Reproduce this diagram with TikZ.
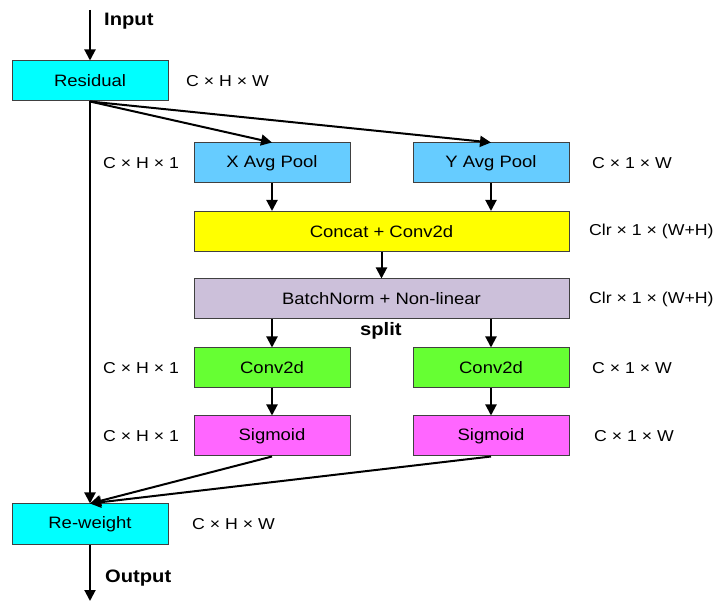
\documentclass[tikz,border=0pt]{standalone}
\usepackage{fontspec}
\setmainfont{Liberation Sans}[FakeStretch=1.12]
\usetikzlibrary{arrows.meta}
\definecolor{cyanbox}{HTML}{00FFFF}
\definecolor{poolbox}{HTML}{66CCFF}
\definecolor{yelbox}{HTML}{FFFF00}
\definecolor{lavbox}{HTML}{CCC0DA}
\definecolor{greenbox}{HTML}{66FF33}
\definecolor{magbox}{HTML}{FF66FF}
\definecolor{edgegray}{HTML}{404040}
\tikzset{
  blk/.style={draw=edgegray, line width=1pt, minimum width=156pt, minimum height=40pt, inner sep=0pt, font=\fontsize{16.5}{18}\selectfont},
  wideblk/.style={blk, minimum width=375pt},
  lbl/.style={anchor=west, inner sep=0pt, font=\fontsize{15.8}{18}\selectfont},
  blbl/.style={anchor=west, inner sep=0pt, font=\fontsize{18}{20}\selectfont\bfseries},
  arr/.style={line width=2pt, -{Triangle[length=11pt,width=11pt]}}
}
\begin{document}
\begin{tikzpicture}[x=1pt,y=-1pt]
\useasboundingbox (0,0) rectangle (718,601);
\node[blk, fill=cyanbox] (res) at (90,81) {Residual};
\node[blk, fill=poolbox] (xp) at (272,163) {X Avg Pool};
\node[blk, fill=poolbox] (yp) at (491,163) {Y Avg Pool};
\node[wideblk, fill=yelbox] (cat) at (381.5,231.5) {Concat + Conv2d};
\node[wideblk, fill=lavbox] (bn) at (381.5,299) {BatchNorm + Non-linear};
\node[blk, fill=greenbox] (cl) at (272,368) {Conv2d};
\node[blk, fill=greenbox] (cr) at (491,368) {Conv2d};
\node[blk, fill=magbox] (sl) at (272,436) {Sigmoid};
\node[blk, fill=magbox] (sr) at (491,436) {Sigmoid};
\node[blk, fill=cyanbox] (rw) at (90,524) {Re-weight};
\coordinate (in) at (90,10);
\coordinate (out) at (90,601);
% labels
\node[blbl] (tin) at (104,21) {Input};
\node[blbl] (tout) at (105,578) {Output};
\node[blbl] (tsplit) at (360,331) {split};
\node[lbl] (l1) at (186,81) {C × H × W};
\node[lbl] (l2) at (103,163) {C × H × 1};
\node[lbl] (l3) at (592,163) {C × 1 × W};
\node[lbl] (l4) at (589,231.5) {Clr × 1 × (W+H)};
\node[lbl] (l5) at (589,299) {Clr × 1 × (W+H)};
\node[lbl] (l6) at (103,368) {C × H × 1};
\node[lbl] (l7) at (592,368) {C × 1 × W};
\node[lbl] (l8) at (103,436) {C × H × 1};
\node[lbl] (l9) at (594,436) {C × 1 × W};
\node[lbl] (l10) at (192,524) {C × H × W};
% connectors
\draw[arr] (in) -- (res.north);
\draw[arr] (res.south) -- (xp.north);
\draw[arr] (res.south) -- (yp.north);
\draw[arr] (res.south) -- (rw.north);
\draw[arr] (xp.south) -- (xp.south |- cat.north);
\draw[arr] (yp.south) -- (yp.south |- cat.north);
\draw[arr] (cat.south) -- (bn.north);
\draw[arr] (bn.south -| cl.north) -- (cl.north);
\draw[arr] (bn.south -| cr.north) -- (cr.north);
\draw[arr] (cl.south) -- (sl.north);
\draw[arr] (cr.south) -- (sr.north);
\draw[arr] (sl.south) -- (rw.north);
\draw[arr] (sr.south) -- (rw.north);
\draw[arr] (rw.south) -- (out);
\end{tikzpicture}
\end{document}
